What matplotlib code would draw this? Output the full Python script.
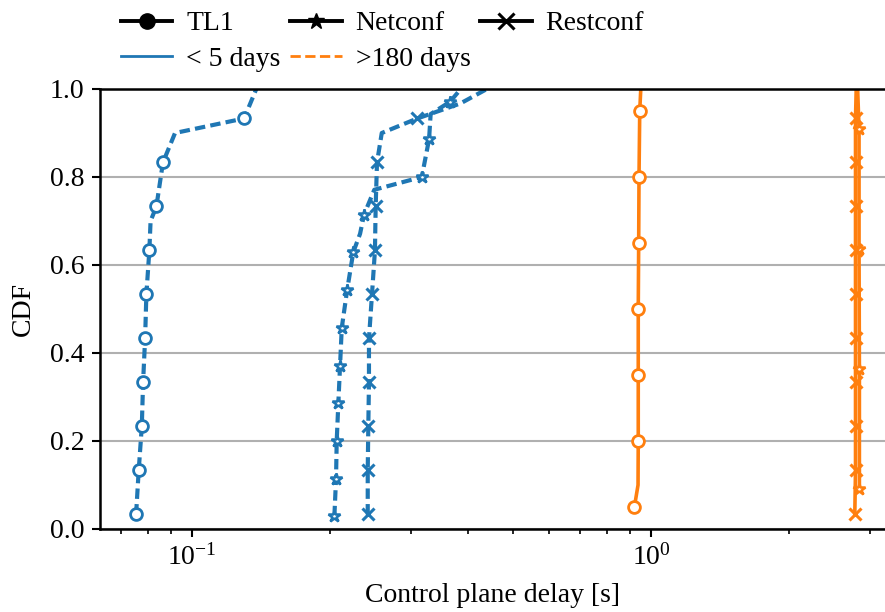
import numpy as np
import matplotlib
matplotlib.use('Agg')
import matplotlib.pyplot as plt
from matplotlib.lines import Line2D

plt.rcParams['font.family'] = ['Liberation Serif', 'DejaVu Serif']
plt.rcParams['mathtext.fontset'] = 'stix'
plt.rcParams['font.size'] = 20

BLUE = '#1f77b4'
ORANGE = '#ff7f0e'

# < 5 days (bends included as extra vertices)
tl1_fast_x = [0.0755, 0.0765, 0.0777, 0.0782, 0.0790, 0.0795, 0.0807, 0.0812,
              0.0836, 0.0864, 0.0918, 0.1298, 0.138]
tl1_fast_y = [0.033, 0.133, 0.233, 0.333, 0.433, 0.533, 0.633, 0.700,
              0.733, 0.833, 0.900, 0.933, 1.0]
tl1_fast_marks = [0, 1, 2, 3, 4, 5, 6, 8, 9, 11]

net_fast_x = [0.2042, 0.2059, 0.2066, 0.2083, 0.2101, 0.2119, 0.2177, 0.2245,
              0.2323, 0.2369, 0.2495, 0.3166, 0.3284, 0.331, 0.3648, 0.385]
net_fast_y = [0.029, 0.114, 0.200, 0.286, 0.371, 0.457, 0.543, 0.629,
              0.671, 0.714, 0.771, 0.800, 0.886, 0.943, 0.971, 1.0]
net_fast_marks = [0, 1, 2, 3, 4, 5, 6, 7, 9, 11, 12, 14]

rest_fast_x = [0.2414, 0.2414, 0.2421, 0.2429, 0.2429, 0.2466, 0.2503, 0.2512,
               0.2529, 0.259, 0.3096, 0.384, 0.439]
rest_fast_y = [0.033, 0.133, 0.233, 0.333, 0.433, 0.533, 0.633, 0.733,
               0.833, 0.900, 0.933, 0.967, 1.0]
rest_fast_marks = [0, 1, 2, 3, 4, 5, 6, 7, 8, 10]

# > 180 days
tl1_slow_x = [0.920, 0.937, 0.938, 0.938, 0.938, 0.940, 0.9416, 0.945, 0.950]
tl1_slow_y = [0.05, 0.10, 0.20, 0.35, 0.50, 0.65, 0.80, 0.95, 1.0]
tl1_slow_marks = [0, 2, 3, 4, 5, 6, 7]

net_slow_x = [2.845, 2.845, 2.84, 2.84, 2.82]
net_slow_y = [0.091, 0.364, 0.636, 0.909, 1.0]
net_slow_marks = [0, 1, 2, 3]

rest_slow_x = [2.78, 2.79, 2.79, 2.79, 2.79, 2.79, 2.79, 2.79, 2.79, 2.79, 2.80]
rest_slow_y = [0.033, 0.133, 0.233, 0.333, 0.433, 0.533, 0.633, 0.733, 0.833, 0.933, 1.0]
rest_slow_marks = list(range(10))

fig = plt.figure(figsize=(8.85, 6.12), dpi=100)
ax = fig.add_axes([100 / 885, 83 / 612, 785 / 885, 440 / 612])

dash = (0, (2.5, 1.25))
ax.plot(tl1_fast_x, tl1_fast_y, color=BLUE, lw=3, ls=dash, marker='o', ms=8.5,
        mfc='white', mew=2, markevery=tl1_fast_marks)
ax.plot(net_fast_x, net_fast_y, color=BLUE, lw=3, ls=dash, marker='*', ms=9,
        mfc='white', mew=1.8, markevery=net_fast_marks)
ax.plot(rest_fast_x, rest_fast_y, color=BLUE, lw=3, ls=dash, marker='x', ms=9,
        mew=2.2, markevery=rest_fast_marks)

ax.plot(tl1_slow_x, tl1_slow_y, color=ORANGE, lw=2.6, marker='o', ms=8.5,
        mfc='white', mew=2, markevery=tl1_slow_marks)
ax.plot(net_slow_x, net_slow_y, color=ORANGE, lw=2.6, marker='*', ms=9,
        mfc='white', mew=1.8, markevery=net_slow_marks)
ax.plot(rest_slow_x, rest_slow_y, color=ORANGE, lw=2.6, marker='x', ms=9,
        mew=2.2, markevery=rest_slow_marks)

ax.set_xscale('log')
ax.set_xlim(0.0630, 3.235)
ax.set_ylim(0, 1)
ax.set_yticks([0, 0.2, 0.4, 0.6, 0.8, 1.0])
ax.yaxis.grid(True, color='#b0b0b0', lw=1.5)
ax.set_axisbelow(True)
ax.spines['right'].set_visible(False)
for s in ['left', 'bottom', 'top']:
    ax.spines[s].set_linewidth(1.8)
ax.tick_params(which='major', length=6, width=1.5, pad=5)
ax.tick_params(which='minor', length=3.5, width=1.2)
ax.set_xlabel('Control plane delay [s]', labelpad=9)
ax.set_ylabel('CDF', labelpad=10)

handles = [
    Line2D([], [], color='black', lw=2.8, marker='o', ms=11),
    Line2D([], [], color=BLUE, lw=2),
    Line2D([], [], color='black', lw=2.8, marker='*', ms=12),
    Line2D([], [], color=ORANGE, lw=2, ls='--'),
    Line2D([], [], color='black', lw=2.8, marker='x', ms=11, mew=2.2),
]
labels = ['TL1', '< 5 days', 'Netconf', '>180 days', 'Restconf']
fig.legend(handles, labels, ncol=3, frameon=False, loc='upper left',
           bbox_to_anchor=(107 / 885, 1 + 3 / 612), borderpad=0,
           handlelength=1.85, handletextpad=0.5, columnspacing=0.35,
           labelspacing=0.35)

fig.savefig('out.png', dpi=100)
